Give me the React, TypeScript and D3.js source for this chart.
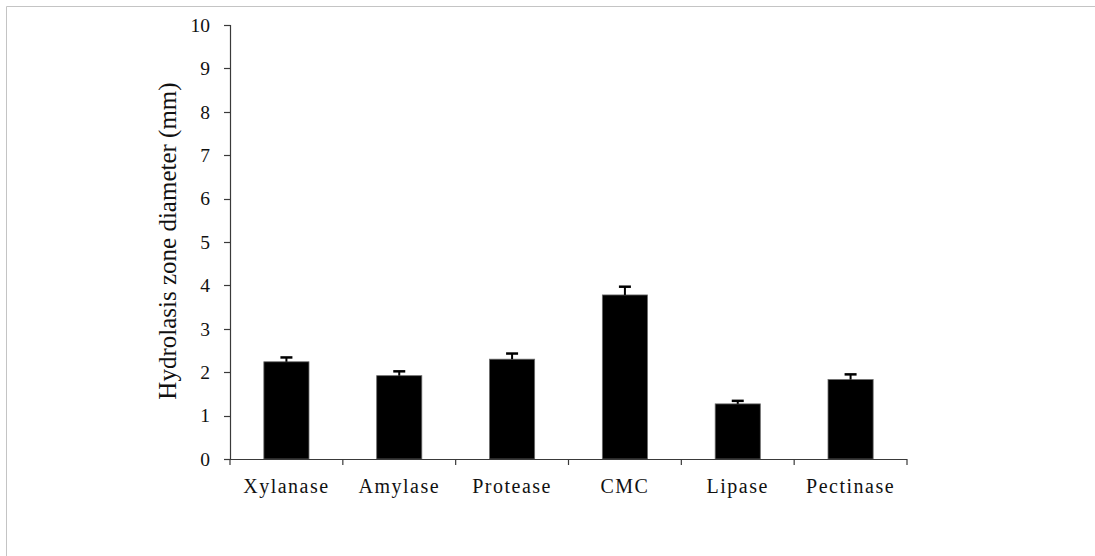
import React from "react";
import * as d3 from "d3";

const categories = ["Xylanase", "Amylase", "Protease", "CMC", "Lipase", "Pectinase"];
const means = [2.24, 1.92, 2.3, 3.78, 1.27, 1.83];
const errors = [0.1, 0.1, 0.13, 0.19, 0.07, 0.12];
const yTicks = [0, 1, 2, 3, 4, 5, 6, 7, 8, 9, 10];
const yTitle = "Hydrolasis zone diameter (mm)";

const W = 1095;
const H = 556;
const left = 230;
const right = 907;
const top = 25;
const bottom = 459;
const font = "Liberation Serif";

export default function App() {
  const x = d3.scaleBand<string>().domain(categories).range([left, right]).paddingInner(0.6).paddingOuter(0.3);
  const y = d3.scaleLinear().domain([0, 10]).range([bottom, top]);
  const step = (right - left) / categories.length;
  const boundaries = d3.range(categories.length + 1).map((i) => left + i * step);
  const axisColor = "#3a3a3a";

  return (
    <div style={{ position: "absolute", left: 0, top: 0 }}>
      <svg width={W} height={H} style={{ display: "block", background: "#fff" }}>
        <line x1={6.5} y1={6.5} x2={W} y2={6.5} stroke="#c4c4c4" strokeWidth={1} />
        <line x1={6.5} y1={6.5} x2={6.5} y2={H} stroke="#c4c4c4" strokeWidth={1} />

        {categories.map((c, i) => {
          const bx = x(c)!;
          const bw = x.bandwidth();
          const cx = bx + bw / 2;
          return (
            <g key={c}>
              <rect x={bx} y={y(means[i])} width={bw} height={bottom - y(means[i])} fill="#000" stroke="#6a6a6a" strokeWidth={0.8} />
              <line x1={cx} x2={cx} y1={y(means[i])} y2={y(means[i] + errors[i])} stroke="#000" strokeWidth={2} />
              <line x1={cx - 6} x2={cx + 6} y1={y(means[i] + errors[i])} y2={y(means[i] + errors[i])} stroke="#000" strokeWidth={2.5} />
            </g>
          );
        })}

        <line x1={left + 0.5} x2={left + 0.5} y1={top} y2={bottom} stroke={axisColor} strokeWidth={1.2} />
        {yTicks.map((t) => (
          <g key={t}>
            <line x1={left - 6} x2={left + 0.5} y1={Math.round(y(t)) + 0.5} y2={Math.round(y(t)) + 0.5} stroke={axisColor} strokeWidth={1.2} />
            <text x={210} y={y(t)} dy="0.35em" textAnchor="end" fontFamily={font} fontSize={19.5} fill="#111">
              {t}
            </text>
          </g>
        ))}

        <line x1={left} x2={right} y1={bottom + 0.5} y2={bottom + 0.5} stroke={axisColor} strokeWidth={1.2} />
        {boundaries.map((b, i) => (
          <line key={i} x1={b} x2={b} y1={bottom} y2={bottom + 6} stroke={axisColor} strokeWidth={1.2} />
        ))}
        {categories.map((c) => (
          <text key={c} x={x(c)! + x.bandwidth() / 2} y={493} textAnchor="middle" fontFamily={font} fontSize={20} letterSpacing={1.5} fill="#111">
            {c}
          </text>
        ))}

        <text transform={`translate(176, 241) rotate(-90)`} textAnchor="middle" fontFamily={font} fontSize={25} fill="#111">
          {yTitle}
        </text>
      </svg>
    </div>
  );
}
